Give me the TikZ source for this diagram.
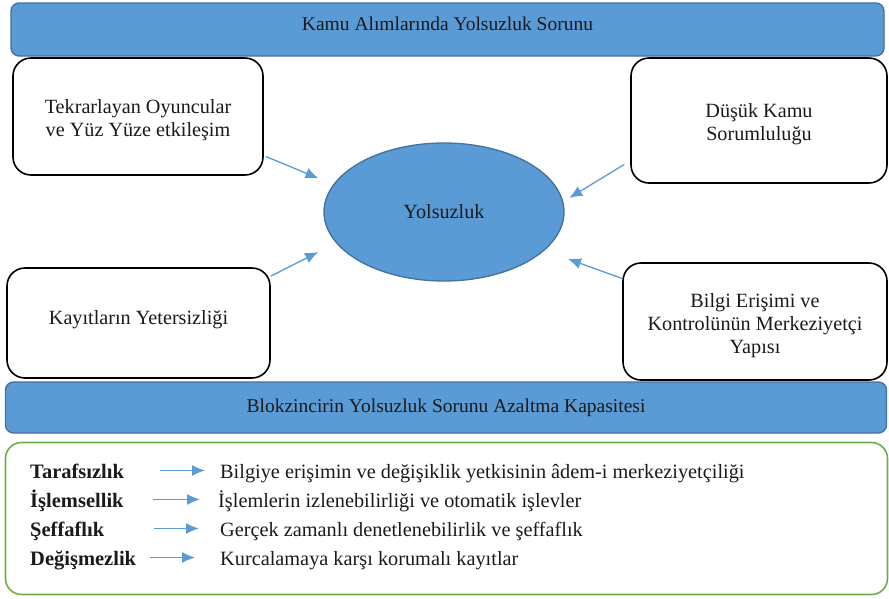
\documentclass[tikz,border=0pt]{standalone}
\usepackage{fontspec}
\newfontfamily\tnr{Liberation Serif}
\usetikzlibrary{shapes.geometric,arrows.meta}
\definecolor{bfill}{HTML}{5B9BD5}
\definecolor{bline}{HTML}{41719C}
\definecolor{gline}{HTML}{70AD47}
\definecolor{tcol}{HTML}{1A1A1A}
\tikzset{
  banner/.style={draw=bline, line width=1.3pt, fill=bfill, rounded corners=8pt, inner sep=0pt,
    font=\tnr\fontsize{19.5}{22}\selectfont, text=tcol},
  factor/.style={draw=black, line width=1.6pt, fill=white, rounded corners=18pt, inner sep=0pt},
  ftext/.style={align=center, inner sep=0pt, font=\tnr\fontsize{20.2}{23}\selectfont, text=tcol},
  arr/.style={draw=bfill, line width=1.3pt, -{Latex[length=13pt,width=11pt]}},
  lab/.style={anchor=base west, inner sep=0pt, font=\tnr\fontsize{20.5}{23}\selectfont\bfseries, text=tcol},
  desc/.style={anchor=base west, inner sep=0pt, font=\tnr\fontsize{20.3}{23}\selectfont, text=tcol}
}
\begin{document}
\begin{tikzpicture}[x=1pt,y=-1pt]
\useasboundingbox (0,0) rectangle (889,598);
% top banner
\node[banner, minimum width=873pt, minimum height=53pt, text height=14pt, text depth=12pt] (top) at (447.5,29.5) {Kamu Alımlarında Yolsuzluk Sorunu};
% central ellipse
\node[ellipse, draw=bline, line width=1.3pt, fill=bfill, minimum width=240pt, minimum height=138pt,
  font=\tnr\fontsize{20.2}{23}\selectfont, text=tcol] (ell) at (444,212) {Yolsuzluk};
% factor boxes
\node[factor, minimum width=250pt, minimum height=117pt,
  label={[ftext, yshift=-4pt]center:{Tekrarlayan Oyuncular\\ve Yüz Yüze etkileşim}}] (tl) at (138,116.5) {};
\node[factor, minimum width=256pt, minimum height=125pt,
  label={[ftext, yshift=-4pt]center:{Düşük Kamu\\Sorumluluğu}}] (tr) at (759,120.5) {};
\node[factor, minimum width=263pt, minimum height=110pt,
  label={[ftext, yshift=3pt]center:{Kayıtların Yetersizliği}}] (bl) at (138.5,323) {};
\node[factor, minimum width=264pt, minimum height=117pt,
  label={[ftext, yshift=-4pt]center:{Bilgi Erişimi ve\\Kontrolünün Merkeziyetçi\\Yapısı}}] (br) at (755,321.5) {};
% arrows to ellipse
\draw[arr, shorten >=16pt] ([xshift=2pt,yshift=-40pt]tl.east) -- (ell.166);
\draw[arr, shorten >=7pt] ([xshift=-6pt,yshift=-44pt]tr.west) -- (ell.5);
\draw[arr, shorten >=20pt] ([yshift=-9pt]bl.north east) -- (ell.196);
\draw[arr, shorten >=25pt] ([yshift=43pt]br.west) -- (ell.-21);
% bottom banner
\node[banner, minimum width=881pt, minimum height=51pt] (bot) at (446,407.5) {Blokzincirin Yolsuzluk Sorunu Azaltma Kapasitesi};
% green box
\node[draw=gline, line width=1.6pt, rounded corners=16pt, minimum width=882pt, minimum height=152pt, inner sep=0pt] (gbox) at (446.5,518.5) {};
% list
\node[lab] (l1) at (30,478.5) {Tarafsızlık};
\node[lab] (l2) at (30,507.5) {İşlemsellik};
\node[lab] (l3) at (30,536.5) {Şeffaflık};
\node[lab] (l4) at (30,565.5) {Değişmezlik};
\node[desc] (d1) at (220,478.5) {Bilgiye erişimin ve değişiklik yetkisinin âdem-i merkeziyetçiliği};
\node[desc] (d2) at (218,507.5) {İşlemlerin izlenebilirliği ve otomatik işlevler};
\node[desc] (d3) at (220,536.5) {Gerçek zamanlı denetlenebilirlik ve şeffaflık};
\node[desc] (d4) at (220,565.5) {Kurcalamaya karşı korumalı kayıtlar};
\draw[arr] ([xshift=-60pt,yshift=8pt]d1.base west) -- ([xshift=-15pt,yshift=8pt]d1.base west);
\draw[arr] ([xshift=-65pt,yshift=8pt]d2.base west) -- ([xshift=-18pt,yshift=8pt]d2.base west);
\draw[arr] ([xshift=-66pt,yshift=8pt]d3.base west) -- ([xshift=-21pt,yshift=8pt]d3.base west);
\draw[arr] ([xshift=-70pt,yshift=8pt]d4.base west) -- ([xshift=-25pt,yshift=8pt]d4.base west);
\end{tikzpicture}
\end{document}
